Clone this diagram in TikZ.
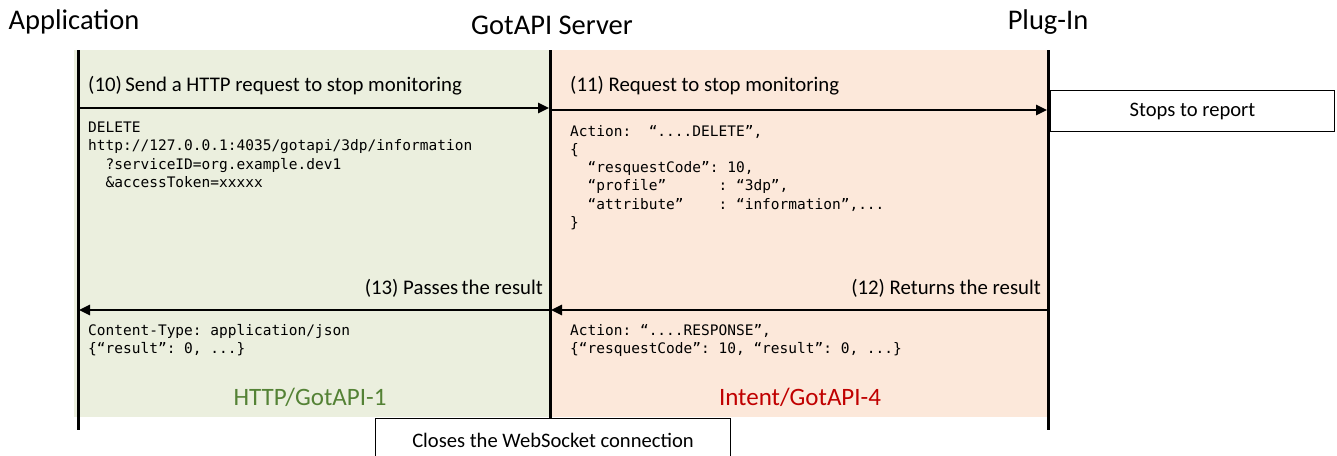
\documentclass[tikz,border=0pt]{standalone}
\usepackage{fontspec}
\setmainfont{Carlito}
\setmonofont{DejaVu Sans Mono}
\usetikzlibrary{arrows.meta}
\definecolor{greenbg}{RGB}{235,239,222}
\definecolor{peachbg}{RGB}{252,232,218}
\definecolor{httpgreen}{RGB}{84,130,53}
\definecolor{intentred}{RGB}{192,0,0}
\tikzset{
  titletext/.style={font=\fontsize{28.5}{32}\selectfont, inner sep=0pt},
  msglabel/.style={font=\fontsize{20.8}{24}\selectfont, inner sep=0pt},
  codetext/.style={font=\fontsize{14.5}{18.2}\selectfont\ttfamily, align=left, inner sep=0pt, anchor=north west},
  lifeline/.style={line width=3pt},
  msgarrow/.style={line width=2.5pt, -{Triangle[length=11pt,width=10pt]}},
  actbox/.style={draw, line width=1pt, fill=white, font=\fontsize{20.6}{24}\selectfont, inner sep=0pt},
  protolabel/.style={font=\fontsize{25}{29}\selectfont, inner sep=0pt}
}
\begin{document}
\begin{tikzpicture}[x=1pt,y=-1pt]
\useasboundingbox (0,0) rectangle (1337,455);
\clip (0,0) rectangle (1337,455);
% backgrounds
\fill[greenbg] (74,50) rectangle (550,417);
\fill[peachbg] (550,50) rectangle (1048,417);
% titles
\node[titletext] (tApp) at (74,22) {Application};
\node[titletext] (tSrv) at (552,25) {GotAPI Server};
\node[titletext] (tPlg) at (1048,22) {Plug-In};
% lifeline ends
\coordinate (appTop) at (78,50);
\coordinate (appBot) at (78,430);
\coordinate (srvTop) at (550,50);
\coordinate (srvBot) at (550,418);
\coordinate (plgTop) at (1048,50);
\coordinate (plgBot) at (1048,430);
\draw[lifeline] (appTop) -- (appBot);
\draw[lifeline] (srvTop) -- (srvBot);
\draw[lifeline] (plgTop) -- (plgBot);
% message end points
\coordinate (m10s) at (78,108);
\coordinate (m10e) at (549,108);
\coordinate (m11s) at (550,110);
\coordinate (m11e) at (1047,110);
\coordinate (m12s) at (1048,310);
\coordinate (m12e) at (551,310);
\coordinate (m13s) at (550,310);
\coordinate (m13e) at (79,310);
\draw[msgarrow] (m10s) -- (m10e);
\draw[msgarrow] (m11s) -- (m11e);
\draw[msgarrow] (m12s) -- (m12e);
\draw[msgarrow] (m13s) -- (m13e);
% labels
\node[msglabel, anchor=west] (l10) at (88,86) {(10)\,Send a HTTP request to stop monitoring};
\node[msglabel, anchor=west] (l11) at (570,86) {(11) Request to stop monitoring};
\node[msglabel, anchor=east] (l13) at (543,288) {(13) Passes\,the result};
\node[msglabel, anchor=east] (l12) at (1041,288) {(12) Returns the result};
% code blocks
\node[codetext] (c10) at (88,122) {DELETE\\http://127.0.0.1:4035/gotapi/3dp/information\\~~?serviceID=org.example.dev1\\~~\&accessToken=xxxxx};
\node[codetext] (c11) at (570,125) {Action:~~“....DELETE”,\\\{\\~~“resquestCode”:~10,\\~~“profile”~~~~~~:~“3dp”,\\~~“attribute”~~~~:~“information”,...\\\}};
\node[codetext] (c13) at (88,324) {Content-Type:~application/json\\\{“result”:~0,~...\}};
\node[codetext] (c12) at (570,324) {Action:~“....RESPONSE”,\\\{“resquestCode”:~10,~“result”:~0,~...\}};
% boxes
\node[actbox, anchor=north west, minimum width=284pt, minimum height=41pt] (stop) at (1050,90) {Stops to report};
\node[actbox, anchor=north west, minimum width=355pt, minimum height=46pt, text depth=0pt] (close) at (375,418) {};
\node[font=\fontsize{20.6}{24}\selectfont, inner sep=0pt] (closeText) at (553,440) {Closes the WebSocket connection};
% protocol labels
\node[protolabel, text=httpgreen] (pHttp) at (310,397) {HTTP/GotAPI-1};
\node[protolabel, text=intentred] (pIntent) at (800,397) {Intent/GotAPI-4};
\end{tikzpicture}
\end{document}
